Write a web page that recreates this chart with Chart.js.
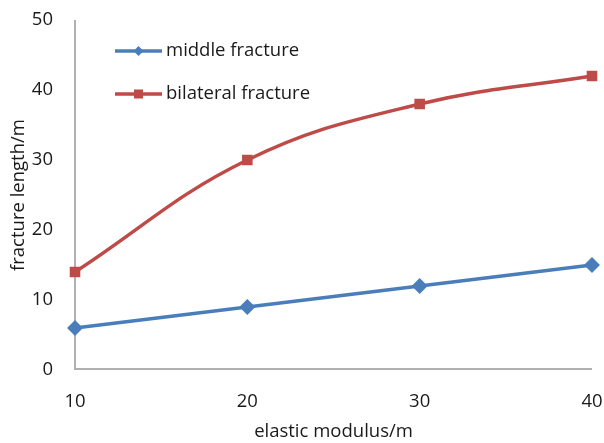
<!DOCTYPE html>
<html>
<head>
<meta charset="utf-8">
<script src="https://cdn.jsdelivr.net/npm/chart.js@4/dist/chart.umd.min.js"></script>
<style>
  html, body { margin: 0; padding: 0; background: #fff; }
  #wrap { width: 604px; height: 443px; position: relative; }
</style>
</head>
<body>
<div id="wrap"><canvas id="c" width="604" height="443"></canvas></div>
<script>
// Elastic modulus values (x categories)
const modulus = ['10', '20', '30', '40'];
// Fracture length for each scheme (m)
const middleFracture = [6, 9, 12, 15];
const bilateralFracture = [14, 30, 38, 42];
// Y axis range
const yMin = 0, yMax = 50, yStep = 10;

const FONT = '"Open Sans", "Liberation Sans", sans-serif';
const FSIZE = 18.5;
const TEXT = '#1a1a1a';
const BLUE = '#4A7EBB';
const RED = '#BE4B48';
const AXIS = '#B0B0B0';

// Left and bottom axis lines along the plot area edges
const axisLines = {
  id: 'axisLines',
  beforeDatasetsDraw(chart) {
    const { ctx, chartArea: a } = chart;
    const left = Math.round(a.left);
    const right = Math.round(a.right);
    const top = Math.round(a.top);
    const bottom = Math.round(a.bottom);
    ctx.save();
    ctx.fillStyle = AXIS;
    ctx.fillRect(left - 1, top, 2, bottom - top);
    ctx.fillRect(left - 1, bottom - 2, right - left + 1, 2);
    ctx.restore();
  }
};

// Legend drawn inside the plot area, top-left
const insideLegend = {
  id: 'insideLegend',
  afterDraw(chart) {
    const ctx = chart.ctx;
    const items = chart.data.datasets;
    const x0 = 115, x1 = 162, y0 = 51, gap = 43;
    ctx.save();
    items.forEach((ds, i) => {
      const y = y0 + i * gap;
      ctx.strokeStyle = ds.borderColor;
      ctx.lineWidth = 3.5;
      ctx.beginPath();
      ctx.moveTo(x0, y);
      ctx.lineTo(x1, y);
      ctx.stroke();
      ctx.fillStyle = ds.borderColor;
      const cx = (x0 + x1) / 2;
      if (ds.pointStyle === 'rectRot') {
        ctx.beginPath();
        ctx.moveTo(cx, y - 5); ctx.lineTo(cx + 5, y); ctx.lineTo(cx, y + 5); ctx.lineTo(cx - 5, y);
        ctx.closePath(); ctx.fill();
      } else {
        ctx.fillRect(cx - 4.5, y - 4.5, 9, 9);
      }
      ctx.fillStyle = TEXT;
      ctx.font = FSIZE + 'px ' + FONT;
      ctx.textBaseline = 'middle';
      ctx.textAlign = 'left';
      ctx.fillText(ds.label, x1 + 4, y);
    });
    ctx.restore();
  }
};

new Chart(document.getElementById('c'), {
  type: 'line',
  data: {
    labels: modulus,
    datasets: [
      {
        label: 'middle fracture',
        data: middleFracture,
        borderColor: BLUE,
        backgroundColor: BLUE,
        borderWidth: 3.5,
        pointStyle: 'rectRot',
        pointRadius: 5.5,
        pointHoverRadius: 5.5,
        tension: 0
      },
      {
        label: 'bilateral fracture',
        data: bilateralFracture,
        borderColor: RED,
        backgroundColor: RED,
        borderWidth: 3.5,
        pointStyle: 'rect',
        pointRadius: 5,
        pointHoverRadius: 5,
        tension: 0.4
      }
    ]
  },
  options: {
    responsive: false,
    animation: false,
    layout: { padding: { top: 20, right: 12, left: 8, bottom: 0 } },
    plugins: { legend: { display: false }, tooltip: { enabled: false } },
    scales: {
      x: {
        type: 'category',
        offset: false,
        grid: { display: false, drawTicks: false },
        border: { display: false },
        ticks: { color: TEXT, font: { size: FSIZE, family: FONT }, padding: 21, maxRotation: 0 },
        title: { display: true, text: 'elastic modulus/m', color: TEXT, font: { size: FSIZE, family: FONT }, padding: { top: 2, bottom: 0 } },
        afterFit(scale) { scale.height = 73; scale.paddingLeft = 0; scale.paddingRight = 0; }
      },
      y: {
        min: yMin, max: yMax,
        grid: { display: false, drawTicks: false },
        border: { display: false },
        ticks: { stepSize: yStep, color: TEXT, font: { size: FSIZE, family: FONT }, padding: 22 },
        title: { display: true, text: 'fracture length/m', color: TEXT, font: { size: FSIZE, family: FONT }, padding: { top: 0, bottom: 0 } },
        afterFit(scale) { scale.width = 67; scale.paddingTop = 0; scale.paddingBottom = 0; }
      }
    }
  },
  plugins: [axisLines, insideLegend]
});
</script>
</body>
</html>
